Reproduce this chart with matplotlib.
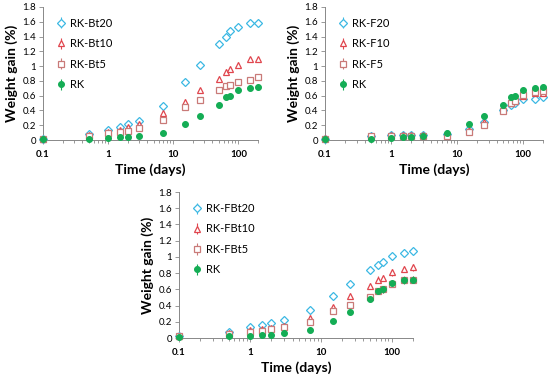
import numpy as np
import matplotlib
matplotlib.use("Agg")
import matplotlib.pyplot as plt
from matplotlib.ticker import FixedLocator, LogLocator, NullFormatter

plt.rcParams['font.family'] = ['Lato', 'DejaVu Sans']

# time points (days)
days = [0.1, 0.5, 1, 1.5, 2, 3, 7, 15, 26, 50, 65, 75, 100, 150, 200]

# reference mortar
rk = [0.01, 0.02, 0.03, 0.035, 0.04, 0.06, 0.10, 0.21, 0.32, 0.48, 0.58, 0.60, 0.68, 0.71, 0.72]

# Bt series
bt20 = [0.02, 0.08, 0.14, 0.18, 0.21, 0.26, 0.46, 0.78, 1.01, 1.30, 1.40, 1.47, 1.53, 1.59, 1.58]
bt10 = [0.02, 0.07, 0.11, 0.14, 0.17, 0.21, 0.37, 0.52, 0.67, 0.83, 0.92, 0.96, 1.02, 1.09, 1.09]
bt5 = [0.02, 0.06, 0.09, 0.11, 0.12, 0.16, 0.27, 0.45, 0.54, 0.67, 0.73, 0.74, 0.79, 0.81, 0.85]

# F series
f20 = [0.02, 0.06, 0.07, 0.07, 0.07, 0.07, 0.08, 0.15, 0.25, 0.40, 0.47, 0.50, 0.55, 0.56, 0.58]
f10 = [0.03, 0.06, 0.07, 0.07, 0.07, 0.07, 0.07, 0.14, 0.25, 0.42, 0.50, 0.53, 0.60, 0.63, 0.63]
f5 = [0.02, 0.05, 0.06, 0.06, 0.06, 0.06, 0.06, 0.11, 0.20, 0.39, 0.50, 0.53, 0.61, 0.65, 0.66]

# FBt series
fbt20 = [0.02, 0.08, 0.13, 0.16, 0.18, 0.22, 0.35, 0.52, 0.67, 0.84, 0.90, 0.94, 1.01, 1.05, 1.07]
fbt10 = [0.02, 0.06, 0.10, 0.11, 0.12, 0.15, 0.25, 0.38, 0.52, 0.64, 0.72, 0.74, 0.81, 0.85, 0.87]
fbt5 = [0.03, 0.05, 0.08, 0.09, 0.11, 0.14, 0.20, 0.33, 0.41, 0.50, 0.58, 0.60, 0.67, 0.72, 0.72]

# error bar half-widths (same for every series)
err = [0.01, 0.02, 0.02, 0.02, 0.02, 0.03, 0.03, 0.03, 0.03, 0.04, 0.04, 0.04, 0.04, 0.04, 0.04]

yticks = [0, 0.2, 0.4, 0.6, 0.8, 1, 1.2, 1.4, 1.6, 1.8]
ytick_labels = ["0", "0.2", "0.4", "0.6", "0.8", "1", "1.2", "1.4", "1.6", "1.8"]
xticks = [0.1, 1, 10, 100]
xtick_labels = ["0.1", "1", "10", "100"]

c_blue = "#3bb8e3"
c_red = "#e0464e"
c_rose = "#c97a78"
c_green = "#14ad55"

styles = [
    dict(marker="D", color=c_blue, mfc="white", ms=3.6, mew=0.9),
    dict(marker="^", color=c_red, mfc="white", ms=4.4, mew=0.9),
    dict(marker="s", color=c_rose, mfc="white", ms=4.4, mew=0.9),
    dict(marker="o", color=c_green, mfc=c_green, ms=4.2, mew=0.8),
]


def draw_panel(ax, series, labels):
    for y, lab, st in zip(series, labels, styles):
        ax.errorbar(days, y, yerr=err, ls="none", ecolor=st["color"], elinewidth=0.8,
                    capsize=0, label=lab, clip_on=False, zorder=3, **st)
    ax.set_xscale("log")
    ax.set_xlim(0.1, 200)
    ax.set_ylim(0, 1.8)
    ax.xaxis.set_major_locator(FixedLocator(xticks))
    ax.set_xticklabels(xtick_labels, fontsize=7, fontweight="bold")
    ax.xaxis.set_minor_locator(LogLocator(base=10, subs=np.arange(2, 10)))
    ax.xaxis.set_minor_formatter(NullFormatter())
    ax.set_yticks(yticks)
    ax.set_yticklabels(ytick_labels, fontsize=7)
    ax.tick_params(axis="both", which="major", length=3, width=0.6, color="#888888", pad=2)
    ax.tick_params(axis="x", which="minor", length=2, width=0.6, color="#888888")
    ax.tick_params(axis="x", pad=4)
    for s in ["top", "right"]:
        ax.spines[s].set_visible(False)
    for s in ["left", "bottom"]:
        ax.spines[s].set_color("#888888")
        ax.spines[s].set_linewidth(0.7)
    ax.set_xlabel("Time (days)", fontsize=10, fontweight="bold", labelpad=3)
    ax.set_ylabel("Weight gain (%)", fontsize=10, fontweight="bold", labelpad=3)
    ax.legend(loc="upper left", frameon=False, fontsize=8, handletextpad=0.2,
              handlelength=1.2, labelspacing=0.85, borderaxespad=0.2,
              bbox_to_anchor=(0.02, 0.97))


fig = plt.figure(figsize=(5.5, 3.82), dpi=100)

ax1 = fig.add_axes([43 / 550, 1 - 140 / 382, 215 / 550, 133 / 382])
draw_panel(ax1, [bt20, bt10, bt5, rk], ["RK-Bt20", "RK-Bt10", "RK-Bt5", "RK"])

ax2 = fig.add_axes([325 / 550, 1 - 140 / 382, 218 / 550, 133 / 382])
draw_panel(ax2, [f20, f10, f5, rk], ["RK-F20", "RK-F10", "RK-F5", "RK"])

ax3 = fig.add_axes([179 / 550, 1 - 338 / 382, 234 / 550, 146 / 382])
draw_panel(ax3, [fbt20, fbt10, fbt5, rk], ["RK-FBt20", "RK-FBt10", "RK-FBt5", "RK"])

fig.savefig("out.png", dpi=100)
